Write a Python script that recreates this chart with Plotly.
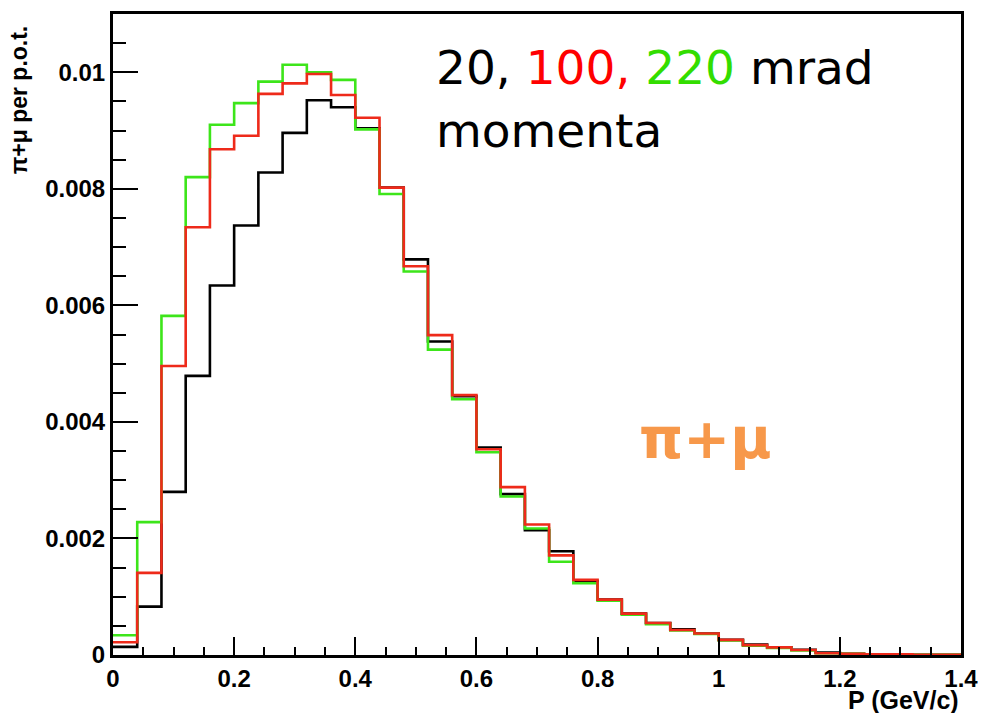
import plotly.graph_objects as go

# Bin edges (GeV/c), bin width 0.04
bin_edges = [0.00, 0.04, 0.08, 0.12, 0.16, 0.20, 0.24, 0.28, 0.32, 0.36,
             0.40, 0.44, 0.48, 0.52, 0.56, 0.60, 0.64, 0.68, 0.72, 0.76,
             0.80, 0.84, 0.88, 0.92, 0.96, 1.00, 1.04, 1.08, 1.12, 1.16,
             1.20, 1.24, 1.28, 1.32, 1.36, 1.40]

# pi+mu per p.o.t., one value per bin
mrad20 = [0.00014, 0.00083, 0.00280, 0.00479, 0.00634, 0.00737, 0.00828, 0.00896, 0.00952, 0.00940,
          0.00904, 0.00802, 0.00679, 0.00538, 0.00444, 0.00356, 0.00276, 0.00214, 0.00178, 0.00127,
          0.00095, 0.00071, 0.00055, 0.00044, 0.00037, 0.00026, 0.00018, 0.00013, 0.00009, 0.00004,
          0.00002, 0.00001, 0.00001, 0.000005, 0.000003]
mrad100 = [0.00022, 0.00141, 0.00496, 0.00734, 0.00868, 0.00891, 0.00963, 0.00981, 0.00997, 0.00961,
           0.00922, 0.00802, 0.00667, 0.00549, 0.00446, 0.00353, 0.00288, 0.00224, 0.00171, 0.00129,
           0.00095, 0.00071, 0.00055, 0.00043, 0.00037, 0.00026, 0.00017, 0.00013, 0.000085, 0.00003,
           0.00002, 0.00001, 0.00001, 0.000005, 0.000003]
mrad220 = [0.00034, 0.00228, 0.00582, 0.00820, 0.00910, 0.00947, 0.00984, 0.01013, 0.01000, 0.00987,
           0.00902, 0.00791, 0.00658, 0.00524, 0.00439, 0.00348, 0.00272, 0.00217, 0.00160, 0.00123,
           0.00093, 0.00069, 0.00053, 0.00042, 0.00036, 0.00025, 0.00016, 0.00012, 0.00008, 0.00003,
           0.00002, 0.00001, 0.00001, 0.000005, 0.000003]

series = [("20 mrad", mrad20, "#000000"),
          ("220 mrad", mrad220, "#3DE51A"),
          ("100 mrad", mrad100, "#EE2A1A")]

fig = go.Figure()
for name, vals, col in series:
    fig.add_trace(go.Scatter(
        x=bin_edges, y=list(vals) + [vals[-1]],
        mode="lines", line=dict(shape="hv", color=col, width=2.6),
        name=name, showlegend=False))

tick_font = dict(family="Liberation Sans", size=24, color="black", weight="bold")

L, R, T, B = 113, 21, 11, 58
W, H = 989, 713
pw, ph = W - L - R, H - T - B

fig.update_layout(
    width=W, height=H,
    margin=dict(l=L, r=R, t=T, b=B),
    paper_bgcolor="white", plot_bgcolor="white",
    showlegend=False,
    xaxis=dict(range=[0, 1.4], dtick=0.2, tick0=0, ticks="inside", ticklen=18,
               tickwidth=1.5, tickcolor="black",
               minor=dict(dtick=0.05, ticks="inside", ticklen=8, tickwidth=1.5, tickcolor="black"),
               showline=True, linecolor="black", linewidth=3, mirror=True,
               showgrid=False, zeroline=False, tickfont=tick_font),
    yaxis=dict(range=[0, 0.011], dtick=0.002, tick0=0, ticks="inside", ticklen=25,
               tickwidth=1.5, tickcolor="black",
               minor=dict(dtick=0.0005, ticks="inside", ticklen=13, tickwidth=1.5, tickcolor="black"),
               showline=True, linecolor="black", linewidth=3, mirror=True,
               showgrid=False, zeroline=False, tickfont=tick_font),
)

def px(xp):
    return (xp - L) / pw

def py(yp):
    return (H - B - yp) / ph

fig.add_annotation(
    text='20, <span style="color:#FF0000">100,</span> <span style="color:#33DD00">220</span> mrad',
    xref="paper", yref="paper", x=px(437), y=py(65),
    xanchor="left", yanchor="middle", showarrow=False,
    font=dict(family="DejaVu Sans", size=47, color="black"))
fig.add_annotation(
    text="momenta",
    xref="paper", yref="paper", x=px(437), y=py(128),
    xanchor="left", yanchor="middle", showarrow=False,
    font=dict(family="DejaVu Sans", size=47, color="black"))
fig.add_annotation(
    text="π+μ",
    xref="paper", yref="paper", x=px(710), y=py(437),
    xanchor="center", yanchor="middle", showarrow=False,
    font=dict(family="DejaVu Sans", size=56, color="#F7984A", weight="bold"))
fig.add_annotation(
    text="π+μ per p.o.t.",
    xref="paper", yref="paper", x=px(4), y=py(20),
    xanchor="left", yanchor="top", textangle=-90, showarrow=False,
    font=dict(family="Liberation Sans", size=23, color="black", weight="bold"))
fig.add_annotation(
    text="P (GeV/c)",
    xref="paper", yref="paper", x=1.0, y=py(700),
    xanchor="right", yanchor="middle", showarrow=False,
    font=dict(family="Liberation Sans", size=25, color="black", weight="bold"))

fig.write_html("out.html")
